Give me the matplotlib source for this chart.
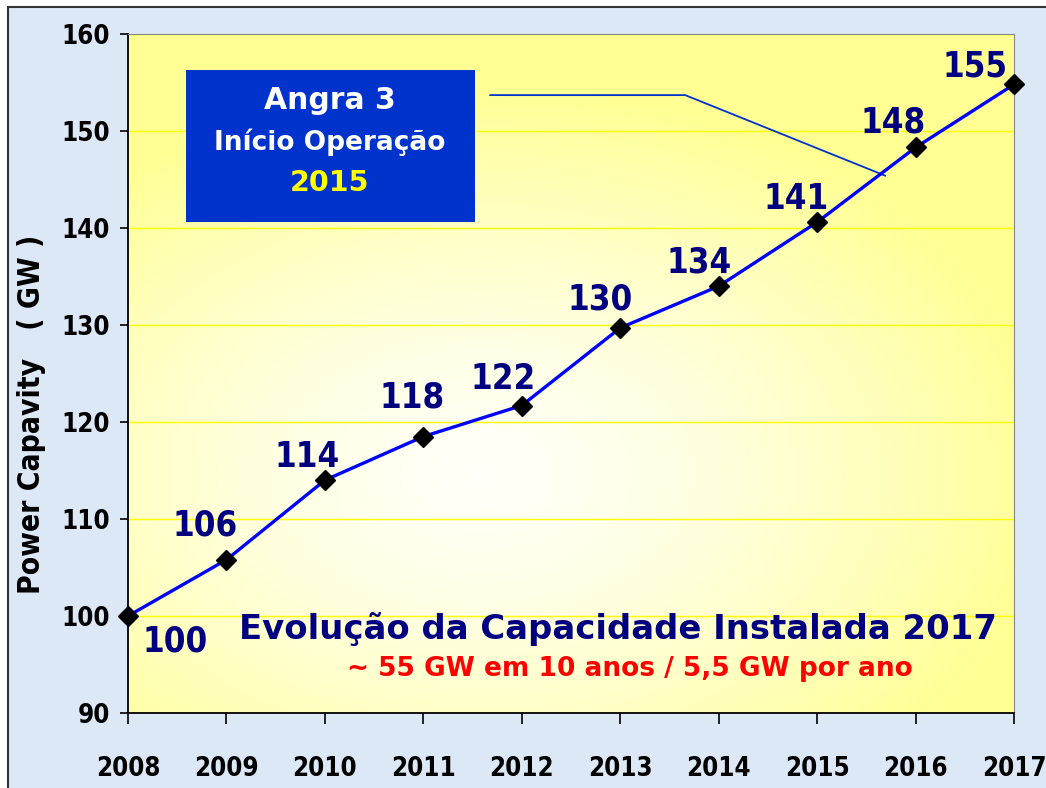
import matplotlib
matplotlib.use("Agg")
import matplotlib.pyplot as plt
import numpy as np
from matplotlib.patches import Rectangle
from matplotlib import font_manager as fm

years = [2008, 2009, 2010, 2011, 2012, 2013, 2014, 2015, 2016, 2017]
capacity = [100, 105.8, 114, 118.5, 121.7, 129.7, 134, 140.6, 148.3, 154.8]
labels = ["100", "106", "114", "118", "122", "130", "134", "141", "148", "155"]
# label offsets in pixels (dx, dy) relative to point
offsets = [(47, -25), (-21, 34), (-18, 23), (-11, 39), (-19, 27),
           (-20, 28), (-20, 24), (-21, 23), (-22, 25), (-39, 18)]

cond = fm.FontProperties(family="DejaVu Sans", weight="bold", stretch="condensed")

fig = plt.figure(figsize=(10.46, 7.88), dpi=100, facecolor="white")

# outer light-blue panel with dark frame
bg = fig.add_axes([0, 0, 1, 1], zorder=-5)
bg.set_xlim(0, 1046)
bg.set_ylim(788, 0)
bg.axis("off")
bg.add_patch(Rectangle((8, 7), 1100, 900, facecolor="#dde8f6", edgecolor="#333333", lw=1.5))

ax = fig.add_axes([128 / 1046, 75 / 788, 886 / 1046, 679 / 788])
ax.set_xlim(2008, 2017)
ax.set_ylim(90, 160)

# radial yellow gradient background
gx, gy = np.meshgrid(np.linspace(0, 1, 300), np.linspace(0, 1, 300))
r = np.sqrt(((gx - 0.4) / 0.9) ** 2 + ((gy - 0.35) / 0.8) ** 2)
r = np.clip(r / 0.72, 0, 1)
c0 = np.array([1.0, 1.0, 0.97])
c1 = np.array([1.0, 1.0, 0.58])
img = c0 + (c1 - c0) * r[..., None] ** 1.5
ax.imshow(img, extent=[2008, 2017, 90, 160], origin="lower", aspect="auto", zorder=0)

ax.set_yticks(range(90, 161, 10))
ax.set_xticks(years)
ax.grid(axis="y", color="#ffff00", lw=1, zorder=1)
for s in ["top", "right"]:
    ax.spines[s].set_color("#888888")
for s in ["left", "bottom"]:
    ax.spines[s].set_color("black")
    ax.spines[s].set_linewidth(1.3)
ax.tick_params(axis="y", direction="out", length=6, width=1.2, pad=7)
ax.tick_params(axis="x", direction="out", length=8, width=1.2, pad=23)
for t in ax.get_xticklabels() + ax.get_yticklabels():
    t.set_fontproperties(cond)
    t.set_fontsize(18.5)

ax.set_ylabel("Power Capavity   ( GW )", fontproperties=cond, fontsize=21.5)
ax.yaxis.set_label_coords(-0.093, 0.44)

ax.plot(years, capacity, color="#0000ff", lw=2.4, marker="D", markersize=10,
        markerfacecolor="black", markeredgecolor="black", zorder=5, clip_on=False)

for x, y, lab, (dx, dy) in zip(years, capacity, labels, offsets):
    ax.annotate(lab, (x, y), xytext=(dx * 0.72, dy * 0.72), textcoords="offset points",
                ha="center", va="center", fontproperties=cond,
                fontsize=25, color="#000080", zorder=6)

# Angra 3 callout
ax.add_patch(Rectangle((2008.59, 140.6), 2.93, 15.7, facecolor="#0033cc",
                       edgecolor="none", zorder=4))
ax.text(2010.05, 153.1, "Angra 3", ha="center", va="center", color="white",
        fontsize=21.5, fontweight="bold", zorder=6)
ax.text(2010.05, 148.8, "Início Operação", ha="center", va="center", color="white",
        fontsize=19, fontweight="bold", zorder=6)
ax.text(2010.05, 144.6, "2015", ha="center", va="center", color="#ffff00",
        fontsize=20.5, fontweight="bold", zorder=6)
ax.plot([2011.68, 2013.66, 2015.69], [153.7, 153.7, 145.4], color="#0033cc",
        lw=1.3, zorder=4)

ax.text(2012.98, 98.7, "Evolução da Capacidade Instalada 2017", ha="center",
        va="center", color="#000080", fontsize=24.4, fontweight="bold", zorder=6)
ax.text(2013.1, 94.5, "~ 55 GW em 10 anos / 5,5 GW por ano", ha="center",
        va="center", color="#ff0000", fontsize=19, fontweight="bold", zorder=6)

fig.savefig("out.png", dpi=100)
